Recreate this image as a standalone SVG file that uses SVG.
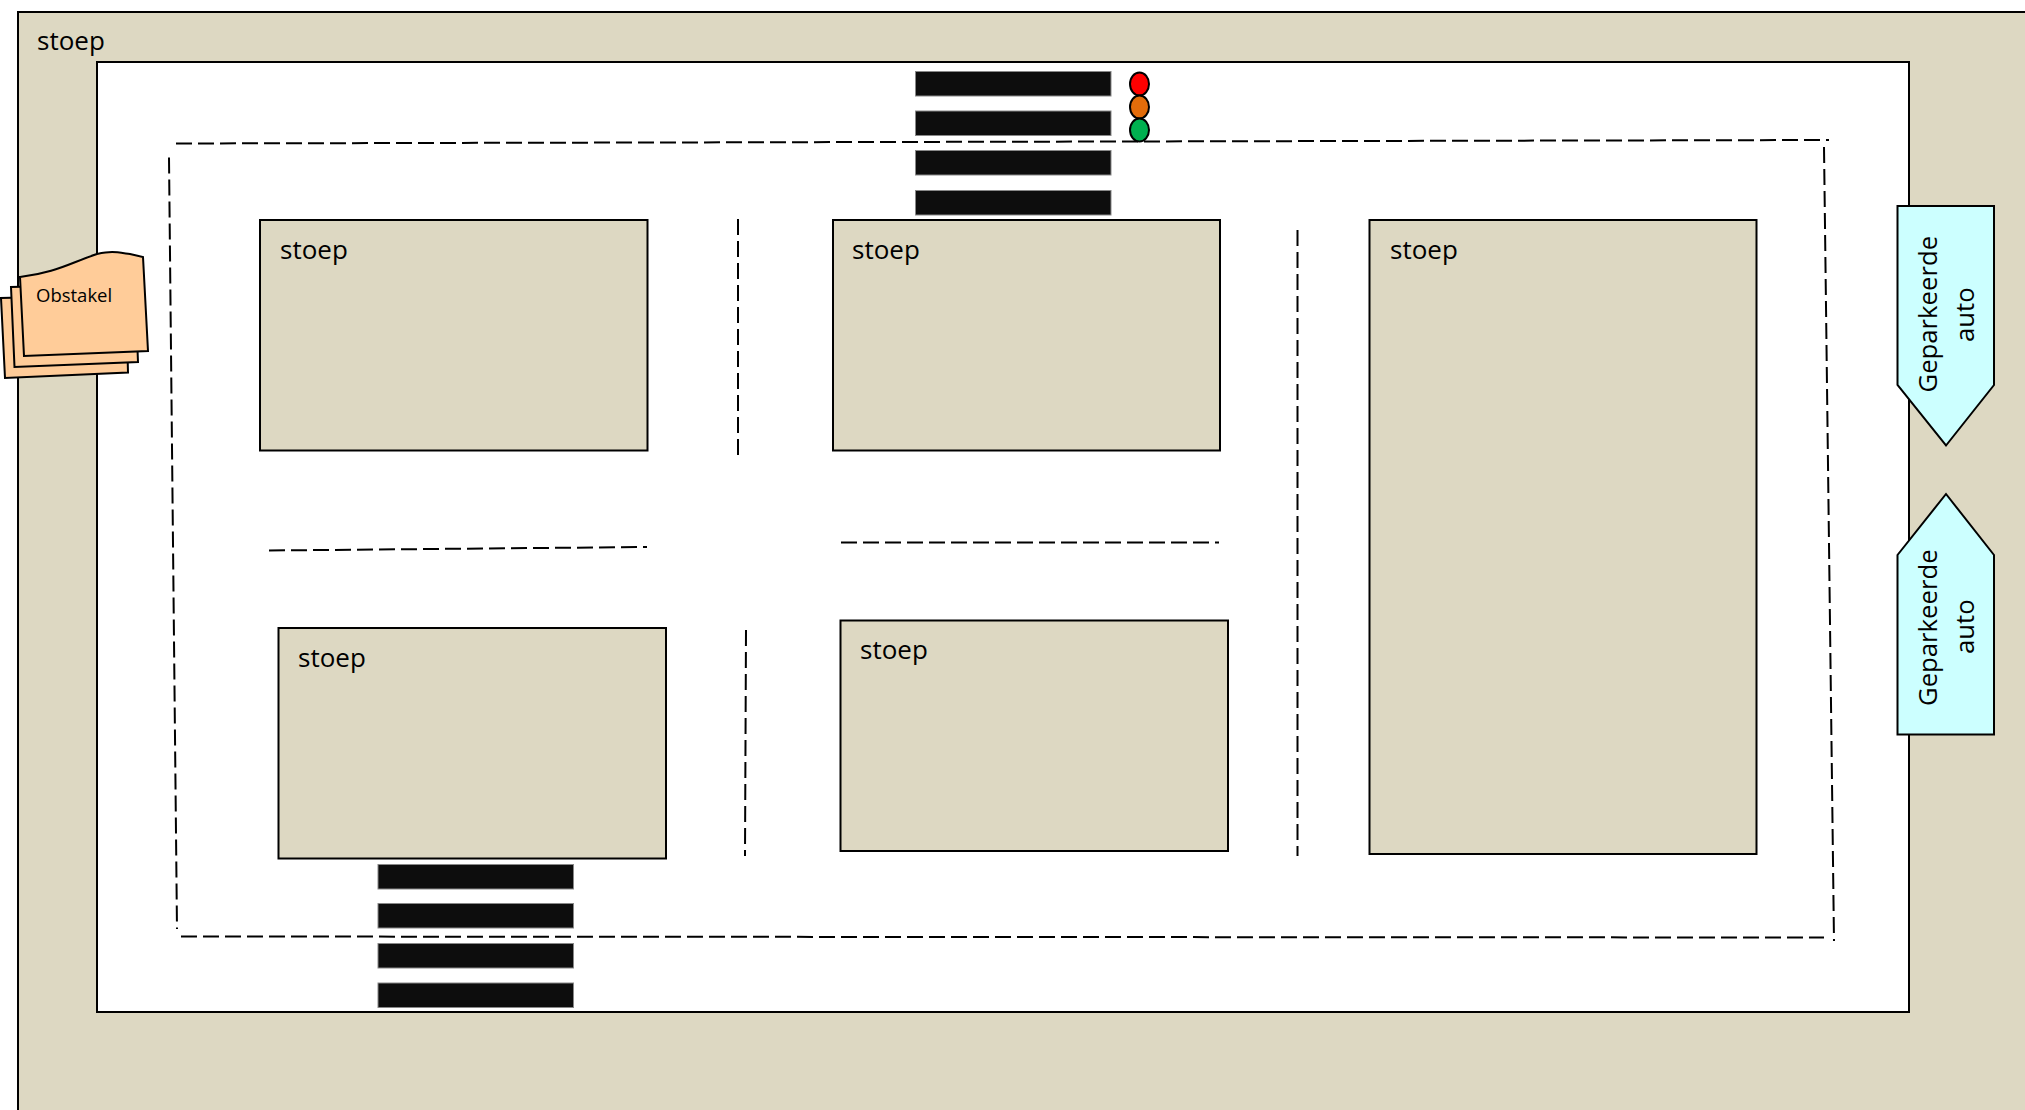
<svg xmlns="http://www.w3.org/2000/svg" width="2025" height="1110" viewBox="0 0 2025 1110">
<style>
text{font-family:"Open Sans","Noto Sans","Liberation Sans",sans-serif;fill:#000}
.s{fill:#DDD8C2;stroke:#000;stroke-width:2}
.l{font-size:26px}
.v{font-size:25.700px}
.d{fill:none;stroke:#000;stroke-width:2;stroke-dasharray:16 6}
.b{fill:#0D0D0D;stroke:#888;stroke-width:1}
.o{fill:#FFCC99;stroke:#000;stroke-width:2}
.c{fill:#CCFFFF;stroke:#000;stroke-width:2}
.t{stroke:#000;stroke-width:2}
</style>
<rect width="2025" height="1110" fill="#fff"/>
<g id="outer-stoep"><rect class="s" x="18" y="12" width="2030" height="1120"/><text class="l" x="37" y="50">stoep</text></g>
<g id="road"><rect x="97" y="62" width="1812" height="950" fill="#fff" stroke="#000" stroke-width="2"/></g>
<g id="stoep-1"><rect class="s" x="260" y="220" width="387.500" height="230.500"/><text class="l" x="280" y="259">stoep</text></g>
<g id="stoep-2"><rect class="s" x="833" y="220" width="387" height="230.500"/><text class="l" x="852" y="259">stoep</text></g>
<g id="stoep-3"><rect class="s" x="1369.500" y="220" width="387" height="634"/><text class="l" x="1390" y="259">stoep</text></g>
<g id="stoep-4"><rect class="s" x="278.500" y="628" width="387.500" height="230.500"/><text class="l" x="298" y="667">stoep</text></g>
<g id="stoep-5"><rect class="s" x="840.500" y="620.500" width="387.500" height="230.500"/><text class="l" x="860" y="659">stoep</text></g>
<g id="crossing-top">
<rect class="b" x="915.500" y="71.500" width="195.500" height="24.500"/><rect class="b" x="915.500" y="111" width="195.500" height="24.500"/><rect class="b" x="915.500" y="150.500" width="195.500" height="24.500"/><rect class="b" x="915.500" y="190.500" width="195.500" height="24.500"/>
</g>
<g id="crossing-bottom">
<rect class="b" x="378" y="864.500" width="195.500" height="24.500"/><rect class="b" x="378" y="903.500" width="195.500" height="24.500"/><rect class="b" x="378" y="943.500" width="195.500" height="24.500"/><rect class="b" x="378" y="983" width="195.500" height="24.500"/>
</g>
<g id="connectors">
<path class="d" d="M176 143.500L1829 140"/>
<path class="d" d="M169 157.500L177 929"/>
<path class="d" d="M1824 147L1834 941"/>
<path class="d" d="M181 936.500L1824 937.500"/>
<path class="d" d="M738 219V456"/>
<path class="d" d="M1297.500 230V856"/>
<path class="d" d="M746 630L745 856"/>
<path class="d" d="M269 550.500L647 547"/>
<path class="d" d="M841 542.500H1219"/>
</g>
<g id="traffic-light">
<ellipse class="t" cx="1139.500" cy="84" rx="9.500" ry="11.500" fill="#FF0000"/>
<ellipse class="t" cx="1139.500" cy="107" rx="9.500" ry="11.500" fill="#E36C0A"/>
<ellipse class="t" cx="1139.500" cy="130" rx="9.500" ry="11.500" fill="#00B050"/>
</g>
<g id="obstakel">
<path class="o" d="M1 298L5 378L128 372.500L126 295Z"/>
<path class="o" d="M11 287L14.500 367L138 362L135 284Z"/>
<path class="o" d="M20 277C55 273 70 263 97 254C112 251 115 252 130 254L143 257L148 351L24 356Z"/>
<text x="36" y="302" font-size="18.500">Obstakel</text>
</g>
<g id="auto-1">
<path class="c" d="M1897.500 206H1994V385L1946 445.500L1897.500 385Z"/>
<text class="v" transform="translate(1937 392.500) rotate(-90)">Geparkeerde</text>
<text class="v" transform="translate(1974 342) rotate(-90)">auto</text>
</g>
<g id="auto-2">
<path class="c" d="M1897.500 734.500H1994V555L1946 494L1897.500 555Z"/>
<text class="v" transform="translate(1937 706) rotate(-90)">Geparkeerde</text>
<text class="v" transform="translate(1974 654) rotate(-90)">auto</text>
</g>
</svg>
